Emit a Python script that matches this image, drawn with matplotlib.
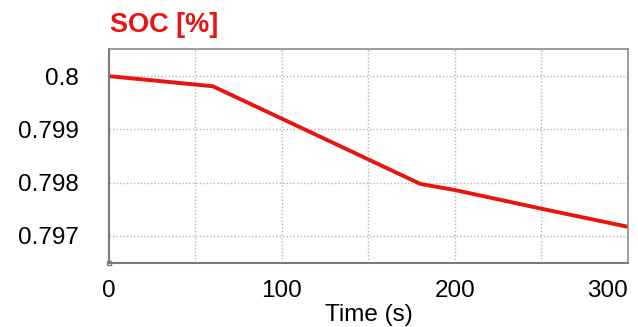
import numpy as np
import matplotlib
matplotlib.use("Agg")
import matplotlib.pyplot as plt

# SOC vs time
time_s = [0, 60, 100, 180, 200, 250, 300]
soc = [0.8, 0.79981, 0.79920, 0.797975, 0.79786, 0.79751, 0.79717]

x_ticks = [0, 100, 200, 300]
y_ticks = [0.797, 0.798, 0.799, 0.8]
y_labels = ["0.797", "0.798", "0.799", "0.8"]

plt.rcParams["font.family"] = ["Liberation Sans", "DejaVu Sans"]

fig = plt.figure(figsize=(6.38, 3.27), dpi=100)
ax = fig.add_axes([0.1708, 0.1957, 0.8135, 0.6545])

ax.plot(time_s, soc, color="#e8140f", lw=2.8, solid_joinstyle="miter")

ax.set_xlim(0, 300)
ax.set_ylim(0.79649, 0.80051)

# dotted grid, vertical lines every 50 s
ax.set_xticks(x_ticks)
ax.set_xticks([50, 150, 250], minor=True)
ax.set_yticks(y_ticks)
ax.set_yticklabels(y_labels)
ax.grid(True, which="both", axis="x", color="#b5b5b5", ls=(0, (1, 1.5)), lw=1)
ax.grid(True, which="major", axis="y", color="#b5b5b5", ls=(0, (1, 1.5)), lw=1)

ax.tick_params(which="both", length=0)
ax.tick_params(axis="y", pad=22, labelsize=17.5)
ax.tick_params(axis="x", pad=12, labelsize=17.5)

labels = ax.get_xticklabels()
labels[-1].set_horizontalalignment("right")

for side in ["top", "right"]:
    ax.spines[side].set_color("#8c8c8c")
    ax.spines[side].set_linewidth(1.2)
for side in ["left", "bottom"]:
    ax.spines[side].set_color("#7a7a7a")
    ax.spines[side].set_linewidth(1.5)

# small marker at the origin corner
ax.plot([0], [0.79649], marker="s", ms=3.5, mfc="white", mec="#7a7a7a", mew=1, clip_on=False)

ax.set_xlabel("Time (s)", fontsize=17.5, labelpad=2)
fig.text(0.172, 0.925, "SOC [%]", color="#e8140f", fontsize=19.5, fontweight="bold",
         ha="left", va="center")

fig.savefig("out.png", dpi=100)
